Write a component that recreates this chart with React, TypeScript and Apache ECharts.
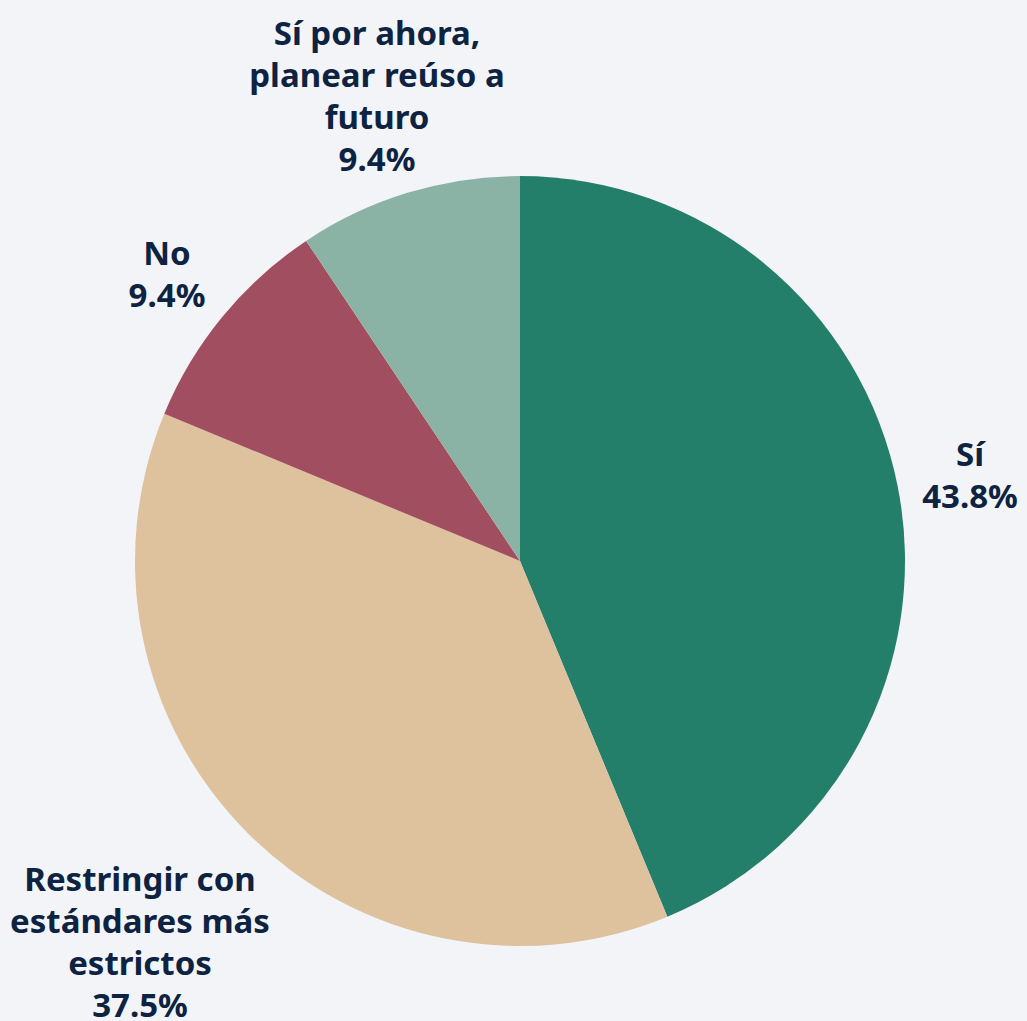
import React, { useEffect, useRef } from "react";
import * as echarts from "echarts";

const categories = [
  "Sí",
  "Restringir con\nestándares más\nestrictos",
  "No",
  "Sí por ahora,\nplanear reúso a\nfuturo",
];
const counts = [14, 12, 3, 3];
const percentLabels = ["43.8%", "37.5%", "9.4%", "9.4%"];
const colors = ["#237F6A", "#DEC29E", "#A24E61", "#8AB3A6"];

// label block centres (layout only)
const labelCenters: [number, number][] = [
  [970, 474],
  [140, 941],
  [167, 273],
  [377, 95],
];

export default function App() {
  const ref = useRef<HTMLDivElement>(null);
  useEffect(() => {
    if (!ref.current) return;
    const chart = echarts.init(ref.current, null, { renderer: "svg" });
    chart.setOption({
      animation: false,
      backgroundColor: "#F3F4F8",
      series: [
        {
          type: "pie",
          center: [520, 561],
          radius: 385,
          startAngle: 90,
          clockwise: true,
          avoidLabelOverlap: false,
          data: categories.map((name, i) => ({
            name,
            value: counts[i],
            itemStyle: { color: colors[i] },
          })),
          label: {
            show: true,
            position: "outside",
            formatter: (p: any) => `${p.name}\n${percentLabels[p.dataIndex]}`,
            fontFamily: "'Noto Sans', Roboto, sans-serif",
            fontWeight: "bold",
            fontSize: 33,
            lineHeight: 42,
            color: "#0D2341",
            align: "center",
          },
          labelLine: { show: false },
          labelLayout: (params: any) => {
            const c = labelCenters[params.dataIndex];
            return { x: c[0], y: c[1], align: "center", verticalAlign: "middle" };
          },
        },
      ],
    });
    return () => chart.dispose();
  }, []);
  return (
    <div
      ref={ref}
      style={{ position: "fixed", left: 0, top: 0, width: 1027, height: 1021 }}
    />
  );
}
